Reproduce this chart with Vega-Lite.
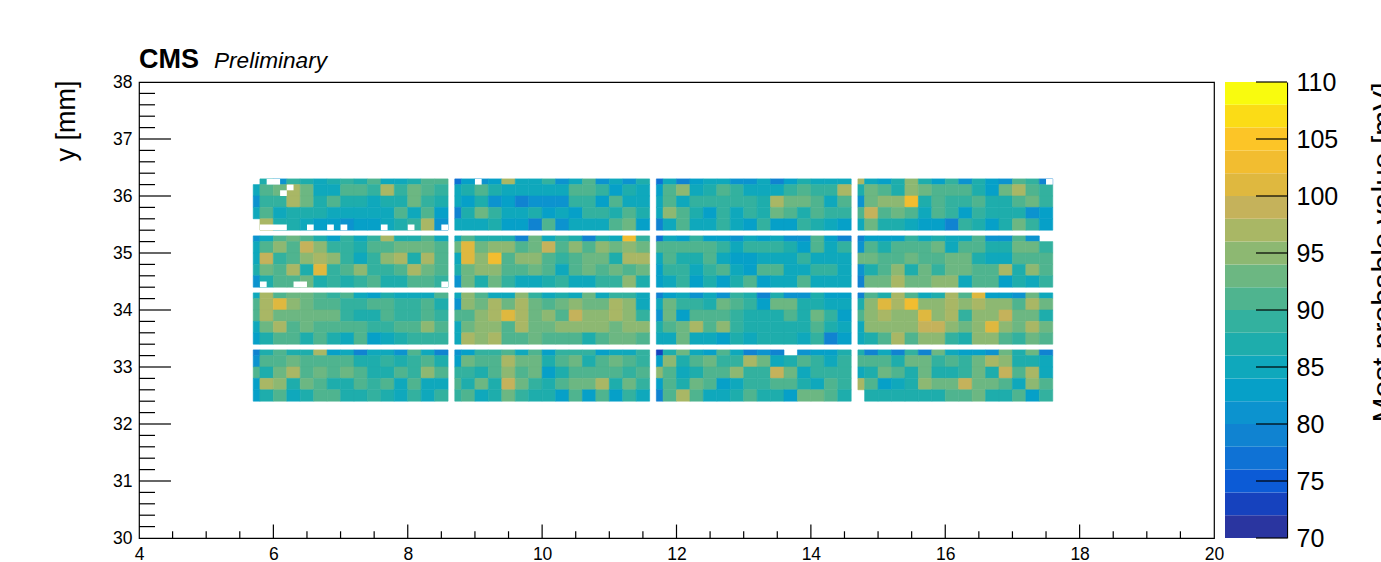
{"$schema":"https://vega.github.io/schema/vega-lite/v6.json","padding":{"left":51,"top":45,"right":0,"bottom":0},"background":"white","spacing":-8,"config":{"view":{"stroke":null},"font":"Liberation Sans"},
"datasets":{
"cols":[{"x":5.7,"x2":5.8},{"x":5.8,"x2":6},{"x":6,"x2":6.2},{"x":6.2,"x2":6.4},{"x":6.4,"x2":6.6},{"x":6.6,"x2":6.8},{"x":6.8,"x2":7},{"x":7,"x2":7.2},{"x":7.2,"x2":7.4},{"x":7.4,"x2":7.6},{"x":7.6,"x2":7.8},{"x":7.8,"x2":8},{"x":8,"x2":8.2},{"x":8.2,"x2":8.4},{"x":8.4,"x2":8.6},{"x":8.7,"x2":8.8},{"x":8.8,"x2":9},{"x":9,"x2":9.2},{"x":9.2,"x2":9.4},{"x":9.4,"x2":9.6},{"x":9.6,"x2":9.8},{"x":9.8,"x2":10},{"x":10,"x2":10.2},{"x":10.2,"x2":10.4},{"x":10.4,"x2":10.6},{"x":10.6,"x2":10.8},{"x":10.8,"x2":11},{"x":11,"x2":11.2},{"x":11.2,"x2":11.4},{"x":11.4,"x2":11.6},{"x":11.7,"x2":11.8},{"x":11.8,"x2":12},{"x":12,"x2":12.2},{"x":12.2,"x2":12.4},{"x":12.4,"x2":12.6},{"x":12.6,"x2":12.8},{"x":12.8,"x2":13},{"x":13,"x2":13.2},{"x":13.2,"x2":13.4},{"x":13.4,"x2":13.6},{"x":13.6,"x2":13.8},{"x":13.8,"x2":14},{"x":14,"x2":14.2},{"x":14.2,"x2":14.4},{"x":14.4,"x2":14.6},{"x":14.7,"x2":14.8},{"x":14.8,"x2":15},{"x":15,"x2":15.2},{"x":15.2,"x2":15.4},{"x":15.4,"x2":15.6},{"x":15.6,"x2":15.8},{"x":15.8,"x2":16},{"x":16,"x2":16.2},{"x":16.2,"x2":16.4},{"x":16.4,"x2":16.6},{"x":16.6,"x2":16.8},{"x":16.8,"x2":17},{"x":17,"x2":17.2},{"x":17.2,"x2":17.4},{"x":17.4,"x2":17.6}],
"rows":[{"y":36.3,"y2":36.2},{"y":36.2,"y2":36},{"y":36,"y2":35.8},{"y":35.8,"y2":35.6},{"y":35.6,"y2":35.4},{"y":35.3,"y2":35.2},{"y":35.2,"y2":35},{"y":35,"y2":34.8},{"y":34.8,"y2":34.6},{"y":34.6,"y2":34.4},{"y":34.3,"y2":34.2},{"y":34.2,"y2":34},{"y":34,"y2":33.8},{"y":33.8,"y2":33.6},{"y":33.6,"y2":33.4},{"y":33.3,"y2":33.2},{"y":33.2,"y2":33},{"y":33,"y2":32.8},{"y":32.8,"y2":32.6},{"y":32.6,"y2":32.4}],
"holes":[{"x":5.9,"x2":6.1,"y":36.3,"y2":36.2},{"x":6.1,"x2":6.2,"y":36.1,"y2":36},{"x":6.2,"x2":6.3,"y":36.2,"y2":36.1},{"x":5.8,"x2":6.2,"y":35.5,"y2":35.4},{"x":6.5,"x2":6.6,"y":35.5,"y2":35.4},{"x":6.8,"x2":6.9,"y":35.5,"y2":35.4},{"x":7,"x2":7.1,"y":35.5,"y2":35.4},{"x":7.6,"x2":7.7,"y":35.5,"y2":35.4},{"x":8,"x2":8.1,"y":35.5,"y2":35.4},{"x":8.5,"x2":8.6,"y":35.5,"y2":35.4},{"x":5.8,"x2":5.9,"y":34.5,"y2":34.4},{"x":6.3,"x2":6.5,"y":34.5,"y2":34.4},{"x":8.5,"x2":8.6,"y":34.5,"y2":34.4},{"x":9,"x2":9.1,"y":36.3,"y2":36.2},{"x":17.5,"x2":17.6,"y":36.3,"y2":36.2}],
"ticks":[{"x":6,"x2":6,"y":30,"y2":30.236},{"x":8,"x2":8,"y":30,"y2":30.236},{"x":10,"x2":10,"y":30,"y2":30.236},{"x":12,"x2":12,"y":30,"y2":30.236},{"x":14,"x2":14,"y":30,"y2":30.236},{"x":16,"x2":16,"y":30,"y2":30.236},{"x":18,"x2":18,"y":30,"y2":30.236},{"x":4.5,"x2":4.5,"y":30,"y2":30.118},{"x":5,"x2":5,"y":30,"y2":30.118},{"x":5.5,"x2":5.5,"y":30,"y2":30.118},{"x":6.5,"x2":6.5,"y":30,"y2":30.118},{"x":7,"x2":7,"y":30,"y2":30.118},{"x":7.5,"x2":7.5,"y":30,"y2":30.118},{"x":8.5,"x2":8.5,"y":30,"y2":30.118},{"x":9,"x2":9,"y":30,"y2":30.118},{"x":9.5,"x2":9.5,"y":30,"y2":30.118},{"x":10.5,"x2":10.5,"y":30,"y2":30.118},{"x":11,"x2":11,"y":30,"y2":30.118},{"x":11.5,"x2":11.5,"y":30,"y2":30.118},{"x":12.5,"x2":12.5,"y":30,"y2":30.118},{"x":13,"x2":13,"y":30,"y2":30.118},{"x":13.5,"x2":13.5,"y":30,"y2":30.118},{"x":14.5,"x2":14.5,"y":30,"y2":30.118},{"x":15,"x2":15,"y":30,"y2":30.118},{"x":15.5,"x2":15.5,"y":30,"y2":30.118},{"x":16.5,"x2":16.5,"y":30,"y2":30.118},{"x":17,"x2":17,"y":30,"y2":30.118},{"x":17.5,"x2":17.5,"y":30,"y2":30.118},{"x":18.5,"x2":18.5,"y":30,"y2":30.118},{"x":19,"x2":19,"y":30,"y2":30.118},{"x":19.5,"x2":19.5,"y":30,"y2":30.118},
{"x":4,"x2":4.476,"y":31,"y2":31},{"x":4,"x2":4.476,"y":32,"y2":32},{"x":4,"x2":4.476,"y":33,"y2":33},{"x":4,"x2":4.476,"y":34,"y2":34},{"x":4,"x2":4.476,"y":35,"y2":35},{"x":4,"x2":4.476,"y":36,"y2":36},{"x":4,"x2":4.476,"y":37,"y2":37},
{"x":4,"x2":4.238,"y":30.2,"y2":30.2},{"x":4,"x2":4.238,"y":30.4,"y2":30.4},{"x":4,"x2":4.238,"y":30.6,"y2":30.6},{"x":4,"x2":4.238,"y":30.8,"y2":30.8},{"x":4,"x2":4.238,"y":31.2,"y2":31.2},{"x":4,"x2":4.238,"y":31.4,"y2":31.4},{"x":4,"x2":4.238,"y":31.6,"y2":31.6},{"x":4,"x2":4.238,"y":31.8,"y2":31.8},{"x":4,"x2":4.238,"y":32.2,"y2":32.2},{"x":4,"x2":4.238,"y":32.4,"y2":32.4},{"x":4,"x2":4.238,"y":32.6,"y2":32.6},{"x":4,"x2":4.238,"y":32.8,"y2":32.8},{"x":4,"x2":4.238,"y":33.2,"y2":33.2},{"x":4,"x2":4.238,"y":33.4,"y2":33.4},{"x":4,"x2":4.238,"y":33.6,"y2":33.6},{"x":4,"x2":4.238,"y":33.8,"y2":33.8},{"x":4,"x2":4.238,"y":34.2,"y2":34.2},{"x":4,"x2":4.238,"y":34.4,"y2":34.4},{"x":4,"x2":4.238,"y":34.6,"y2":34.6},{"x":4,"x2":4.238,"y":34.8,"y2":34.8},{"x":4,"x2":4.238,"y":35.2,"y2":35.2},{"x":4,"x2":4.238,"y":35.4,"y2":35.4},{"x":4,"x2":4.238,"y":35.6,"y2":35.6},{"x":4,"x2":4.238,"y":35.8,"y2":35.8},{"x":4,"x2":4.238,"y":36.2,"y2":36.2},{"x":4,"x2":4.238,"y":36.4,"y2":36.4},{"x":4,"x2":4.238,"y":36.6,"y2":36.6},{"x":4,"x2":4.238,"y":36.8,"y2":36.8},{"x":4,"x2":4.238,"y":37.2,"y2":37.2},{"x":4,"x2":4.238,"y":37.4,"y2":37.4},{"x":4,"x2":4.238,"y":37.6,"y2":37.6},{"x":4,"x2":4.238,"y":37.8,"y2":37.8}],
"bar":[{"lo":70,"hi":72},{"lo":72,"hi":74},{"lo":74,"hi":76},{"lo":76,"hi":78},{"lo":78,"hi":80},{"lo":80,"hi":82},{"lo":82,"hi":84},{"lo":84,"hi":86},{"lo":86,"hi":88},{"lo":88,"hi":90},{"lo":90,"hi":92},{"lo":92,"hi":94},{"lo":94,"hi":96},{"lo":96,"hi":98},{"lo":98,"hi":100},{"lo":100,"hi":102},{"lo":102,"hi":104},{"lo":104,"hi":106},{"lo":106,"hi":108},{"lo":108,"hi":110}],
"barticks":[{"t":70},{"t":75},{"t":80},{"t":85},{"t":90},{"t":95},{"t":100},{"t":105},{"t":110}],
"cells":[
{"x":5.8,"y":36.3,"v":86},{"x":6,"y":36.3,"v":80},{"x":6.2,"y":36.3,"v":88},{"x":6.4,"y":36.3,"v":86},{"x":6.6,"y":36.3,"v":84},{"x":6.8,"y":36.3,"v":86},{"x":7,"y":36.3,"v":88},{"x":7.2,"y":36.3,"v":86},{"x":7.4,"y":36.3,"v":90},{"x":7.6,"y":36.3,"v":84},{"x":7.8,"y":36.3,"v":84},{"x":8,"y":36.3,"v":86},{"x":8.2,"y":36.3,"v":90},{"x":8.4,"y":36.3,"v":90},
{"x":5.7,"y":36.2,"v":84},{"x":5.8,"y":36.2,"v":90},{"x":6,"y":36.2,"v":92},{"x":6.2,"y":36.2,"v":96},{"x":6.4,"y":36.2,"v":92},{"x":6.6,"y":36.2,"v":84},{"x":6.8,"y":36.2,"v":84},{"x":7,"y":36.2,"v":90},{"x":7.2,"y":36.2,"v":90},{"x":7.4,"y":36.2,"v":88},{"x":7.6,"y":36.2,"v":96},{"x":7.8,"y":36.2,"v":88},{"x":8,"y":36.2,"v":92},{"x":8.2,"y":36.2,"v":90},{"x":8.4,"y":36.2,"v":88},
{"x":5.7,"y":36,"v":80},{"x":5.8,"y":36,"v":88},{"x":6,"y":36,"v":88},{"x":6.2,"y":36,"v":96},{"x":6.4,"y":36,"v":92},{"x":6.6,"y":36,"v":86},{"x":6.8,"y":36,"v":90},{"x":7,"y":36,"v":86},{"x":7.2,"y":36,"v":86},{"x":7.4,"y":36,"v":84},{"x":7.6,"y":36,"v":86},{"x":7.8,"y":36,"v":86},{"x":8,"y":36,"v":92},{"x":8.2,"y":36,"v":88},{"x":8.4,"y":36,"v":86},
{"x":5.7,"y":35.8,"v":84},{"x":5.8,"y":35.8,"v":90},{"x":6,"y":35.8,"v":84},{"x":6.2,"y":35.8,"v":86},{"x":6.4,"y":35.8,"v":86},{"x":6.6,"y":35.8,"v":86},{"x":6.8,"y":35.8,"v":85},{"x":7,"y":35.8,"v":84},{"x":7.2,"y":35.8,"v":84},{"x":7.4,"y":35.8,"v":84},{"x":7.6,"y":35.8,"v":84},{"x":7.8,"y":35.8,"v":90},{"x":8,"y":35.8,"v":84},{"x":8.2,"y":35.8,"v":90},{"x":8.4,"y":35.8,"v":82},
{"x":5.8,"y":35.6,"v":96},{"x":6,"y":35.6,"v":86},{"x":6.2,"y":35.6,"v":86},{"x":6.4,"y":35.6,"v":84},{"x":6.6,"y":35.6,"v":82},{"x":6.8,"y":35.6,"v":82},{"x":7,"y":35.6,"v":80},{"x":7.2,"y":35.6,"v":82},{"x":7.4,"y":35.6,"v":82},{"x":7.6,"y":35.6,"v":84},{"x":7.8,"y":35.6,"v":86},{"x":8,"y":35.6,"v":88},{"x":8.2,"y":35.6,"v":96},{"x":8.4,"y":35.6,"v":80},
{"x":5.7,"y":35.3,"v":80},{"x":5.8,"y":35.3,"v":84},{"x":6,"y":35.3,"v":90},{"x":6.2,"y":35.3,"v":92},{"x":6.4,"y":35.3,"v":90},{"x":6.6,"y":35.3,"v":86},{"x":6.8,"y":35.3,"v":82},{"x":7,"y":35.3,"v":88},{"x":7.2,"y":35.3,"v":84},{"x":7.4,"y":35.3,"v":88},{"x":7.6,"y":35.3,"v":96},{"x":7.8,"y":35.3,"v":86},{"x":8,"y":35.3,"v":86},{"x":8.2,"y":35.3,"v":90},{"x":8.4,"y":35.3,"v":84},
{"x":5.7,"y":35.2,"v":84},{"x":5.8,"y":35.2,"v":90},{"x":6,"y":35.2,"v":94},{"x":6.2,"y":35.2,"v":90},{"x":6.4,"y":35.2,"v":98},{"x":6.6,"y":35.2,"v":94},{"x":6.8,"y":35.2,"v":88},{"x":7,"y":35.2,"v":88},{"x":7.2,"y":35.2,"v":86},{"x":7.4,"y":35.2,"v":90},{"x":7.6,"y":35.2,"v":90},{"x":7.8,"y":35.2,"v":92},{"x":8,"y":35.2,"v":92},{"x":8.2,"y":35.2,"v":92},{"x":8.4,"y":35.2,"v":90},
{"x":5.7,"y":35,"v":84},{"x":5.8,"y":35,"v":98},{"x":6,"y":35,"v":88},{"x":6.2,"y":35,"v":90},{"x":6.4,"y":35,"v":94},{"x":6.6,"y":35,"v":97},{"x":6.8,"y":35,"v":94},{"x":7,"y":35,"v":88},{"x":7.2,"y":35,"v":84},{"x":7.4,"y":35,"v":88},{"x":7.6,"y":35,"v":94},{"x":7.8,"y":35,"v":96},{"x":8,"y":35,"v":86},{"x":8.2,"y":35,"v":96},{"x":8.4,"y":35,"v":90},
{"x":5.7,"y":34.8,"v":86},{"x":5.8,"y":34.8,"v":92},{"x":6,"y":34.8,"v":90},{"x":6.2,"y":34.8,"v":96},{"x":6.4,"y":34.8,"v":86},{"x":6.6,"y":34.8,"v":100},{"x":6.8,"y":34.8,"v":88},{"x":7,"y":34.8,"v":91},{"x":7.2,"y":34.8,"v":94},{"x":7.4,"y":34.8,"v":88},{"x":7.6,"y":34.8,"v":88},{"x":7.8,"y":34.8,"v":90},{"x":8,"y":34.8,"v":96},{"x":8.2,"y":34.8,"v":92},{"x":8.4,"y":34.8,"v":90},
{"x":5.7,"y":34.6,"v":80},{"x":5.8,"y":34.6,"v":86},{"x":6,"y":34.6,"v":90},{"x":6.2,"y":34.6,"v":90},{"x":6.4,"y":34.6,"v":92},{"x":6.6,"y":34.6,"v":86},{"x":6.8,"y":34.6,"v":88},{"x":7,"y":34.6,"v":86},{"x":7.2,"y":34.6,"v":88},{"x":7.4,"y":34.6,"v":90},{"x":7.6,"y":34.6,"v":86},{"x":7.8,"y":34.6,"v":86},{"x":8,"y":34.6,"v":90},{"x":8.2,"y":34.6,"v":90},{"x":8.4,"y":34.6,"v":88},
{"x":5.7,"y":34.3,"v":84},{"x":5.8,"y":34.3,"v":96},{"x":6,"y":34.3,"v":90},{"x":6.2,"y":34.3,"v":92},{"x":6.4,"y":34.3,"v":92},{"x":6.6,"y":34.3,"v":90},{"x":6.8,"y":34.3,"v":88},{"x":7,"y":34.3,"v":90},{"x":7.2,"y":34.3,"v":84},{"x":7.4,"y":34.3,"v":82},{"x":7.6,"y":34.3,"v":86},{"x":7.8,"y":34.3,"v":84},{"x":8,"y":34.3,"v":84},{"x":8.2,"y":34.3,"v":84},{"x":8.4,"y":34.3,"v":90},
{"x":5.7,"y":34.2,"v":90},{"x":5.8,"y":34.2,"v":96},{"x":6,"y":34.2,"v":100},{"x":6.2,"y":34.2,"v":95},{"x":6.4,"y":34.2,"v":92},{"x":6.6,"y":34.2,"v":90},{"x":6.8,"y":34.2,"v":90},{"x":7,"y":34.2,"v":88},{"x":7.2,"y":34.2,"v":88},{"x":7.4,"y":34.2,"v":90},{"x":7.6,"y":34.2,"v":90},{"x":7.8,"y":34.2,"v":88},{"x":8,"y":34.2,"v":88},{"x":8.2,"y":34.2,"v":91},{"x":8.4,"y":34.2,"v":86},
{"x":5.7,"y":34,"v":90},{"x":5.8,"y":34,"v":96},{"x":6,"y":34,"v":92},{"x":6.2,"y":34,"v":92},{"x":6.4,"y":34,"v":92},{"x":6.6,"y":34,"v":92},{"x":6.8,"y":34,"v":93},{"x":7,"y":34,"v":88},{"x":7.2,"y":34,"v":86},{"x":7.4,"y":34,"v":86},{"x":7.6,"y":34,"v":91},{"x":7.8,"y":34,"v":88},{"x":8,"y":34,"v":88},{"x":8.2,"y":34,"v":91},{"x":8.4,"y":34,"v":88},
{"x":5.7,"y":33.8,"v":85},{"x":5.8,"y":33.8,"v":93},{"x":6,"y":33.8,"v":97},{"x":6.2,"y":33.8,"v":90},{"x":6.4,"y":33.8,"v":93},{"x":6.6,"y":33.8,"v":90},{"x":6.8,"y":33.8,"v":90},{"x":7,"y":33.8,"v":90},{"x":7.2,"y":33.8,"v":90},{"x":7.4,"y":33.8,"v":88},{"x":7.6,"y":33.8,"v":88},{"x":7.8,"y":33.8,"v":90},{"x":8,"y":33.8,"v":90},{"x":8.2,"y":33.8,"v":94},{"x":8.4,"y":33.8,"v":91},
{"x":5.7,"y":33.6,"v":83},{"x":5.8,"y":33.6,"v":87},{"x":6,"y":33.6,"v":90},{"x":6.2,"y":33.6,"v":90},{"x":6.4,"y":33.6,"v":87},{"x":6.6,"y":33.6,"v":90},{"x":6.8,"y":33.6,"v":86},{"x":7,"y":33.6,"v":84},{"x":7.2,"y":33.6,"v":90},{"x":7.4,"y":33.6,"v":82},{"x":7.6,"y":33.6,"v":84},{"x":7.8,"y":33.6,"v":86},{"x":8,"y":33.6,"v":88},{"x":8.2,"y":33.6,"v":88},{"x":8.4,"y":33.6,"v":88},
{"x":5.7,"y":33.3,"v":78},{"x":5.8,"y":33.3,"v":86},{"x":6,"y":33.3,"v":90},{"x":6.2,"y":33.3,"v":86},{"x":6.4,"y":33.3,"v":87},{"x":6.6,"y":33.3,"v":96},{"x":6.8,"y":33.3,"v":82},{"x":7,"y":33.3,"v":84},{"x":7.2,"y":33.3,"v":78},{"x":7.4,"y":33.3,"v":84},{"x":7.6,"y":33.3,"v":84},{"x":7.8,"y":33.3,"v":80},{"x":8,"y":33.3,"v":90},{"x":8.2,"y":33.3,"v":84},{"x":8.4,"y":33.3,"v":79},
{"x":5.7,"y":33.2,"v":80},{"x":5.8,"y":33.2,"v":90},{"x":6,"y":33.2,"v":90},{"x":6.2,"y":33.2,"v":92},{"x":6.4,"y":33.2,"v":90},{"x":6.6,"y":33.2,"v":90},{"x":6.8,"y":33.2,"v":90},{"x":7,"y":33.2,"v":90},{"x":7.2,"y":33.2,"v":86},{"x":7.4,"y":33.2,"v":86},{"x":7.6,"y":33.2,"v":88},{"x":7.8,"y":33.2,"v":86},{"x":8,"y":33.2,"v":88},{"x":8.2,"y":33.2,"v":90},{"x":8.4,"y":33.2,"v":86},
{"x":5.7,"y":33,"v":90},{"x":5.8,"y":33,"v":86},{"x":6,"y":33,"v":92},{"x":6.2,"y":33,"v":96},{"x":6.4,"y":33,"v":90},{"x":6.6,"y":33,"v":93},{"x":6.8,"y":33,"v":90},{"x":7,"y":33,"v":93},{"x":7.2,"y":33,"v":91},{"x":7.4,"y":33,"v":86},{"x":7.6,"y":33,"v":86},{"x":7.8,"y":33,"v":90},{"x":8,"y":33,"v":88},{"x":8.2,"y":33,"v":94},{"x":8.4,"y":33,"v":90},
{"x":5.7,"y":32.8,"v":82},{"x":5.8,"y":32.8,"v":97},{"x":6,"y":32.8,"v":94},{"x":6.2,"y":32.8,"v":86},{"x":6.4,"y":32.8,"v":92},{"x":6.6,"y":32.8,"v":90},{"x":6.8,"y":32.8,"v":87},{"x":7,"y":32.8,"v":87},{"x":7.2,"y":32.8,"v":90},{"x":7.4,"y":32.8,"v":88},{"x":7.6,"y":32.8,"v":91},{"x":7.8,"y":32.8,"v":85},{"x":8,"y":32.8,"v":91},{"x":8.2,"y":32.8,"v":84},{"x":8.4,"y":32.8,"v":84},
{"x":5.7,"y":32.6,"v":82},{"x":5.8,"y":32.6,"v":87},{"x":6,"y":32.6,"v":90},{"x":6.2,"y":32.6,"v":84},{"x":6.4,"y":32.6,"v":87},{"x":6.6,"y":32.6,"v":90},{"x":6.8,"y":32.6,"v":90},{"x":7,"y":32.6,"v":87},{"x":7.2,"y":32.6,"v":86},{"x":7.4,"y":32.6,"v":88},{"x":7.6,"y":32.6,"v":86},{"x":7.8,"y":32.6,"v":84},{"x":8,"y":32.6,"v":88},{"x":8.2,"y":32.6,"v":85},{"x":8.4,"y":32.6,"v":88},
{"x":8.7,"y":36.3,"v":76},{"x":8.8,"y":36.3,"v":82},{"x":9,"y":36.3,"v":80},{"x":9.2,"y":36.3,"v":82},{"x":9.4,"y":36.3,"v":96},{"x":9.6,"y":36.3,"v":84},{"x":9.8,"y":36.3,"v":84},{"x":10,"y":36.3,"v":88},{"x":10.2,"y":36.3,"v":81},{"x":10.4,"y":36.3,"v":84},{"x":10.6,"y":36.3,"v":90},{"x":10.8,"y":36.3,"v":80},{"x":11,"y":36.3,"v":84},{"x":11.2,"y":36.3,"v":80},{"x":11.4,"y":36.3,"v":87},
{"x":8.7,"y":36.2,"v":85},{"x":8.8,"y":36.2,"v":87},{"x":9,"y":36.2,"v":91},{"x":9.2,"y":36.2,"v":87},{"x":9.4,"y":36.2,"v":85},{"x":9.6,"y":36.2,"v":85},{"x":9.8,"y":36.2,"v":85},{"x":10,"y":36.2,"v":85},{"x":10.2,"y":36.2,"v":85},{"x":10.4,"y":36.2,"v":90},{"x":10.6,"y":36.2,"v":90},{"x":10.8,"y":36.2,"v":88},{"x":11,"y":36.2,"v":83},{"x":11.2,"y":36.2,"v":87},{"x":11.4,"y":36.2,"v":84},
{"x":8.7,"y":36,"v":85},{"x":8.8,"y":36,"v":83},{"x":9,"y":36,"v":87},{"x":9.2,"y":36,"v":81},{"x":9.4,"y":36,"v":82},{"x":9.6,"y":36,"v":79},{"x":9.8,"y":36,"v":80},{"x":10,"y":36,"v":80},{"x":10.2,"y":36,"v":81},{"x":10.4,"y":36,"v":88},{"x":10.6,"y":36,"v":88},{"x":10.8,"y":36,"v":83},{"x":11,"y":36,"v":91},{"x":11.2,"y":36,"v":85},{"x":11.4,"y":36,"v":84},
{"x":8.7,"y":35.8,"v":78},{"x":8.8,"y":35.8,"v":87},{"x":9,"y":35.8,"v":92},{"x":9.2,"y":35.8,"v":89},{"x":9.4,"y":35.8,"v":84},{"x":9.6,"y":35.8,"v":85},{"x":9.8,"y":35.8,"v":86},{"x":10,"y":35.8,"v":82},{"x":10.2,"y":35.8,"v":85},{"x":10.4,"y":35.8,"v":82},{"x":10.6,"y":35.8,"v":89},{"x":10.8,"y":35.8,"v":88},{"x":11,"y":35.8,"v":87},{"x":11.2,"y":35.8,"v":90},{"x":11.4,"y":35.8,"v":87},
{"x":8.7,"y":35.6,"v":84},{"x":8.8,"y":35.6,"v":84},{"x":9,"y":35.6,"v":84},{"x":9.2,"y":35.6,"v":87},{"x":9.4,"y":35.6,"v":82},{"x":9.6,"y":35.6,"v":83},{"x":9.8,"y":35.6,"v":79},{"x":10,"y":35.6,"v":90},{"x":10.2,"y":35.6,"v":81},{"x":10.4,"y":35.6,"v":84},{"x":10.6,"y":35.6,"v":84},{"x":10.8,"y":35.6,"v":84},{"x":11,"y":35.6,"v":90},{"x":11.2,"y":35.6,"v":93},{"x":11.4,"y":35.6,"v":82},
{"x":8.7,"y":35.3,"v":85},{"x":8.8,"y":35.3,"v":90},{"x":9,"y":35.3,"v":87},{"x":9.2,"y":35.3,"v":87},{"x":9.4,"y":35.3,"v":86},{"x":9.6,"y":35.3,"v":79},{"x":9.8,"y":35.3,"v":92},{"x":10,"y":35.3,"v":85},{"x":10.2,"y":35.3,"v":88},{"x":10.4,"y":35.3,"v":86},{"x":10.6,"y":35.3,"v":79},{"x":10.8,"y":35.3,"v":87},{"x":11,"y":35.3,"v":84},{"x":11.2,"y":35.3,"v":102},{"x":11.4,"y":35.3,"v":88},
{"x":8.7,"y":35.2,"v":93},{"x":8.8,"y":35.2,"v":101},{"x":9,"y":35.2,"v":92},{"x":9.2,"y":35.2,"v":95},{"x":9.4,"y":35.2,"v":95},{"x":9.6,"y":35.2,"v":90},{"x":9.8,"y":35.2,"v":92},{"x":10,"y":35.2,"v":98},{"x":10.2,"y":35.2,"v":90},{"x":10.4,"y":35.2,"v":95},{"x":10.6,"y":35.2,"v":90},{"x":10.8,"y":35.2,"v":95},{"x":11,"y":35.2,"v":92},{"x":11.2,"y":35.2,"v":95},{"x":11.4,"y":35.2,"v":93},
{"x":8.7,"y":35,"v":85},{"x":8.8,"y":35,"v":101},{"x":9,"y":35,"v":94},{"x":9.2,"y":35,"v":103},{"x":9.4,"y":35,"v":90},{"x":9.6,"y":35,"v":94},{"x":9.8,"y":35,"v":94},{"x":10,"y":35,"v":90},{"x":10.2,"y":35,"v":88},{"x":10.4,"y":35,"v":91},{"x":10.6,"y":35,"v":93},{"x":10.8,"y":35,"v":93},{"x":11,"y":35,"v":86},{"x":11.2,"y":35,"v":97},{"x":11.4,"y":35,"v":97},
{"x":8.7,"y":34.8,"v":86},{"x":8.8,"y":34.8,"v":92},{"x":9,"y":34.8,"v":95},{"x":9.2,"y":34.8,"v":95},{"x":9.4,"y":34.8,"v":90},{"x":9.6,"y":34.8,"v":90},{"x":9.8,"y":34.8,"v":93},{"x":10,"y":34.8,"v":90},{"x":10.2,"y":34.8,"v":85},{"x":10.4,"y":34.8,"v":90},{"x":10.6,"y":34.8,"v":93},{"x":10.8,"y":34.8,"v":90},{"x":11,"y":34.8,"v":92},{"x":11.2,"y":34.8,"v":90},{"x":11.4,"y":34.8,"v":93},
{"x":8.7,"y":34.6,"v":80},{"x":8.8,"y":34.6,"v":92},{"x":9,"y":34.6,"v":87},{"x":9.2,"y":34.6,"v":92},{"x":9.4,"y":34.6,"v":88},{"x":9.6,"y":34.6,"v":84},{"x":9.8,"y":34.6,"v":84},{"x":10,"y":34.6,"v":87},{"x":10.2,"y":34.6,"v":89},{"x":10.4,"y":34.6,"v":84},{"x":10.6,"y":34.6,"v":84},{"x":10.8,"y":34.6,"v":88},{"x":11,"y":34.6,"v":88},{"x":11.2,"y":34.6,"v":95},{"x":11.4,"y":34.6,"v":86},
{"x":8.7,"y":34.3,"v":84},{"x":8.8,"y":34.3,"v":94},{"x":9,"y":34.3,"v":90},{"x":9.2,"y":34.3,"v":85},{"x":9.4,"y":34.3,"v":85},{"x":9.6,"y":34.3,"v":95},{"x":9.8,"y":34.3,"v":88},{"x":10,"y":34.3,"v":84},{"x":10.2,"y":34.3,"v":87},{"x":10.4,"y":34.3,"v":85},{"x":10.6,"y":34.3,"v":92},{"x":10.8,"y":34.3,"v":84},{"x":11,"y":34.3,"v":88},{"x":11.2,"y":34.3,"v":88},{"x":11.4,"y":34.3,"v":84},
{"x":8.7,"y":34.2,"v":81},{"x":8.8,"y":34.2,"v":95},{"x":9,"y":34.2,"v":92},{"x":9.2,"y":34.2,"v":97},{"x":9.4,"y":34.2,"v":92},{"x":9.6,"y":34.2,"v":97},{"x":9.8,"y":34.2,"v":92},{"x":10,"y":34.2,"v":90},{"x":10.2,"y":34.2,"v":92},{"x":10.4,"y":34.2,"v":95},{"x":10.6,"y":34.2,"v":92},{"x":10.8,"y":34.2,"v":92},{"x":11,"y":34.2,"v":97},{"x":11.2,"y":34.2,"v":94},{"x":11.4,"y":34.2,"v":84},
{"x":8.7,"y":34,"v":90},{"x":8.8,"y":34,"v":90},{"x":9,"y":34,"v":94},{"x":9.2,"y":34,"v":97},{"x":9.4,"y":34,"v":101},{"x":9.6,"y":34,"v":97},{"x":9.8,"y":34,"v":92},{"x":10,"y":34,"v":95},{"x":10.2,"y":34,"v":91},{"x":10.4,"y":34,"v":98},{"x":10.6,"y":34,"v":94},{"x":10.8,"y":34,"v":94},{"x":11,"y":34,"v":97},{"x":11.2,"y":34,"v":94},{"x":11.4,"y":34,"v":88},
{"x":8.7,"y":33.8,"v":84},{"x":8.8,"y":33.8,"v":92},{"x":9,"y":33.8,"v":94},{"x":9.2,"y":33.8,"v":94},{"x":9.4,"y":33.8,"v":91},{"x":9.6,"y":33.8,"v":97},{"x":9.8,"y":33.8,"v":92},{"x":10,"y":33.8,"v":92},{"x":10.2,"y":33.8,"v":95},{"x":10.4,"y":33.8,"v":95},{"x":10.6,"y":33.8,"v":95},{"x":10.8,"y":33.8,"v":95},{"x":11,"y":33.8,"v":92},{"x":11.2,"y":33.8,"v":95},{"x":11.4,"y":33.8,"v":95},
{"x":8.7,"y":33.6,"v":84},{"x":8.8,"y":33.6,"v":97},{"x":9,"y":33.6,"v":94},{"x":9.2,"y":33.6,"v":97},{"x":9.4,"y":33.6,"v":90},{"x":9.6,"y":33.6,"v":90},{"x":9.8,"y":33.6,"v":93},{"x":10,"y":33.6,"v":90},{"x":10.2,"y":33.6,"v":90},{"x":10.4,"y":33.6,"v":90},{"x":10.6,"y":33.6,"v":87},{"x":10.8,"y":33.6,"v":90},{"x":11,"y":33.6,"v":92},{"x":11.2,"y":33.6,"v":92},{"x":11.4,"y":33.6,"v":90},
{"x":8.7,"y":33.3,"v":81},{"x":8.8,"y":33.3,"v":83},{"x":9,"y":33.3,"v":88},{"x":9.2,"y":33.3,"v":88},{"x":9.4,"y":33.3,"v":91},{"x":9.6,"y":33.3,"v":85},{"x":9.8,"y":33.3,"v":90},{"x":10,"y":33.3,"v":83},{"x":10.2,"y":33.3,"v":88},{"x":10.4,"y":33.3,"v":88},{"x":10.6,"y":33.3,"v":88},{"x":10.8,"y":33.3,"v":82},{"x":11,"y":33.3,"v":84},{"x":11.2,"y":33.3,"v":84},{"x":11.4,"y":33.3,"v":88},
{"x":8.7,"y":33.2,"v":82},{"x":8.8,"y":33.2,"v":92},{"x":9,"y":33.2,"v":90},{"x":9.2,"y":33.2,"v":90},{"x":9.4,"y":33.2,"v":96},{"x":9.6,"y":33.2,"v":92},{"x":9.8,"y":33.2,"v":92},{"x":10,"y":33.2,"v":87},{"x":10.2,"y":33.2,"v":90},{"x":10.4,"y":33.2,"v":92},{"x":10.6,"y":33.2,"v":87},{"x":10.8,"y":33.2,"v":90},{"x":11,"y":33.2,"v":93},{"x":11.2,"y":33.2,"v":90},{"x":11.4,"y":33.2,"v":88},
{"x":8.7,"y":33,"v":88},{"x":8.8,"y":33,"v":88},{"x":9,"y":33,"v":87},{"x":9.2,"y":33,"v":90},{"x":9.4,"y":33,"v":95},{"x":9.6,"y":33,"v":90},{"x":9.8,"y":33,"v":93},{"x":10,"y":33,"v":82},{"x":10.2,"y":33,"v":87},{"x":10.4,"y":33,"v":90},{"x":10.6,"y":33,"v":90},{"x":10.8,"y":33,"v":90},{"x":11,"y":33,"v":90},{"x":11.2,"y":33,"v":88},{"x":11.4,"y":33,"v":90},
{"x":8.7,"y":32.8,"v":90},{"x":8.8,"y":32.8,"v":87},{"x":9,"y":32.8,"v":92},{"x":9.2,"y":32.8,"v":87},{"x":9.4,"y":32.8,"v":99},{"x":9.6,"y":32.8,"v":92},{"x":9.8,"y":32.8,"v":89},{"x":10,"y":32.8,"v":87},{"x":10.2,"y":32.8,"v":90},{"x":10.4,"y":32.8,"v":92},{"x":10.6,"y":32.8,"v":92},{"x":10.8,"y":32.8,"v":96},{"x":11,"y":32.8,"v":87},{"x":11.2,"y":32.8,"v":93},{"x":11.4,"y":32.8,"v":88},
{"x":8.7,"y":32.6,"v":88},{"x":8.8,"y":32.6,"v":91},{"x":9,"y":32.6,"v":85},{"x":9.2,"y":32.6,"v":87},{"x":9.4,"y":32.6,"v":92},{"x":9.6,"y":32.6,"v":88},{"x":9.8,"y":32.6,"v":86},{"x":10,"y":32.6,"v":87},{"x":10.2,"y":32.6,"v":83},{"x":10.4,"y":32.6,"v":91},{"x":10.6,"y":32.6,"v":83},{"x":10.8,"y":32.6,"v":91},{"x":11,"y":32.6,"v":82},{"x":11.2,"y":32.6,"v":88},{"x":11.4,"y":32.6,"v":84},
{"x":11.7,"y":36.3,"v":76},{"x":11.8,"y":36.3,"v":84},{"x":12,"y":36.3,"v":79},{"x":12.2,"y":36.3,"v":83},{"x":12.4,"y":36.3,"v":85},{"x":12.6,"y":36.3,"v":85},{"x":12.8,"y":36.3,"v":80},{"x":13,"y":36.3,"v":80},{"x":13.2,"y":36.3,"v":84},{"x":13.4,"y":36.3,"v":79},{"x":13.6,"y":36.3,"v":82},{"x":13.8,"y":36.3,"v":86},{"x":14,"y":36.3,"v":84},{"x":14.2,"y":36.3,"v":84},{"x":14.4,"y":36.3,"v":84},
{"x":11.7,"y":36.2,"v":82},{"x":11.8,"y":36.2,"v":90},{"x":12,"y":36.2,"v":95},{"x":12.2,"y":36.2,"v":84},{"x":12.4,"y":36.2,"v":87},{"x":12.6,"y":36.2,"v":91},{"x":12.8,"y":36.2,"v":88},{"x":13,"y":36.2,"v":84},{"x":13.2,"y":36.2,"v":84},{"x":13.4,"y":36.2,"v":84},{"x":13.6,"y":36.2,"v":88},{"x":13.8,"y":36.2,"v":91},{"x":14,"y":36.2,"v":88},{"x":14.2,"y":36.2,"v":88},{"x":14.4,"y":36.2,"v":96},
{"x":11.7,"y":36,"v":85},{"x":11.8,"y":36,"v":90},{"x":12,"y":36,"v":84},{"x":12.2,"y":36,"v":88},{"x":12.4,"y":36,"v":88},{"x":12.6,"y":36,"v":88},{"x":12.8,"y":36,"v":88},{"x":13,"y":36,"v":88},{"x":13.2,"y":36,"v":86},{"x":13.4,"y":36,"v":97},{"x":13.6,"y":36,"v":93},{"x":13.8,"y":36,"v":93},{"x":14,"y":36,"v":91},{"x":14.2,"y":36,"v":85},{"x":14.4,"y":36,"v":90},
{"x":11.7,"y":35.8,"v":85},{"x":11.8,"y":35.8,"v":94},{"x":12,"y":35.8,"v":91},{"x":12.2,"y":35.8,"v":87},{"x":12.4,"y":35.8,"v":83},{"x":12.6,"y":35.8,"v":88},{"x":12.8,"y":35.8,"v":85},{"x":13,"y":35.8,"v":88},{"x":13.2,"y":35.8,"v":86},{"x":13.4,"y":35.8,"v":93},{"x":13.6,"y":35.8,"v":90},{"x":13.8,"y":35.8,"v":87},{"x":14,"y":35.8,"v":91},{"x":14.2,"y":35.8,"v":88},{"x":14.4,"y":35.8,"v":88},
{"x":11.7,"y":35.6,"v":78},{"x":11.8,"y":35.6,"v":85},{"x":12,"y":35.6,"v":90},{"x":12.2,"y":35.6,"v":85},{"x":12.4,"y":35.6,"v":85},{"x":12.6,"y":35.6,"v":88},{"x":12.8,"y":35.6,"v":85},{"x":13,"y":35.6,"v":83},{"x":13.2,"y":35.6,"v":89},{"x":13.4,"y":35.6,"v":82},{"x":13.6,"y":35.6,"v":82},{"x":13.8,"y":35.6,"v":88},{"x":14,"y":35.6,"v":86},{"x":14.2,"y":35.6,"v":85},{"x":14.4,"y":35.6,"v":82},
{"x":11.7,"y":35.3,"v":76},{"x":11.8,"y":35.3,"v":84},{"x":12,"y":35.3,"v":82},{"x":12.2,"y":35.3,"v":88},{"x":12.4,"y":35.3,"v":83},{"x":12.6,"y":35.3,"v":83},{"x":12.8,"y":35.3,"v":81},{"x":13,"y":35.3,"v":85},{"x":13.2,"y":35.3,"v":82},{"x":13.4,"y":35.3,"v":85},{"x":13.6,"y":35.3,"v":81},{"x":13.8,"y":35.3,"v":81},{"x":14,"y":35.3,"v":90},{"x":14.2,"y":35.3,"v":82},{"x":14.4,"y":35.3,"v":79},
{"x":11.7,"y":35.2,"v":90},{"x":11.8,"y":35.2,"v":90},{"x":12,"y":35.2,"v":90},{"x":12.2,"y":35.2,"v":90},{"x":12.4,"y":35.2,"v":90},{"x":12.6,"y":35.2,"v":88},{"x":12.8,"y":35.2,"v":85},{"x":13,"y":35.2,"v":88},{"x":13.2,"y":35.2,"v":88},{"x":13.4,"y":35.2,"v":88},{"x":13.6,"y":35.2,"v":86},{"x":13.8,"y":35.2,"v":83},{"x":14,"y":35.2,"v":91},{"x":14.2,"y":35.2,"v":85},{"x":14.4,"y":35.2,"v":88},
{"x":11.7,"y":35,"v":85},{"x":11.8,"y":35,"v":90},{"x":12,"y":35,"v":87},{"x":12.2,"y":35,"v":87},{"x":12.4,"y":35,"v":91},{"x":12.6,"y":35,"v":85},{"x":12.8,"y":35,"v":83},{"x":13,"y":35,"v":83},{"x":13.2,"y":35,"v":85},{"x":13.4,"y":35,"v":85},{"x":13.6,"y":35,"v":85},{"x":13.8,"y":35,"v":88},{"x":14,"y":35,"v":85},{"x":14.2,"y":35,"v":84},{"x":14.4,"y":35,"v":84},
{"x":11.7,"y":34.8,"v":82},{"x":11.8,"y":34.8,"v":88},{"x":12,"y":34.8,"v":88},{"x":12.2,"y":34.8,"v":85},{"x":12.4,"y":34.8,"v":88},{"x":12.6,"y":34.8,"v":91},{"x":12.8,"y":34.8,"v":85},{"x":13,"y":34.8,"v":83},{"x":13.2,"y":34.8,"v":91},{"x":13.4,"y":34.8,"v":91},{"x":13.6,"y":34.8,"v":85},{"x":13.8,"y":34.8,"v":85},{"x":14,"y":34.8,"v":88},{"x":14.2,"y":34.8,"v":88},{"x":14.4,"y":34.8,"v":84},
{"x":11.7,"y":34.6,"v":82},{"x":11.8,"y":34.6,"v":85},{"x":12,"y":34.6,"v":88},{"x":12.2,"y":34.6,"v":83},{"x":12.4,"y":34.6,"v":86},{"x":12.6,"y":34.6,"v":83},{"x":12.8,"y":34.6,"v":86},{"x":13,"y":34.6,"v":91},{"x":13.2,"y":34.6,"v":82},{"x":13.4,"y":34.6,"v":84},{"x":13.6,"y":34.6,"v":84},{"x":13.8,"y":34.6,"v":91},{"x":14,"y":34.6,"v":85},{"x":14.2,"y":34.6,"v":85},{"x":14.4,"y":34.6,"v":84},
{"x":11.7,"y":34.3,"v":78},{"x":11.8,"y":34.3,"v":82},{"x":12,"y":34.3,"v":84},{"x":12.2,"y":34.3,"v":80},{"x":12.4,"y":34.3,"v":84},{"x":12.6,"y":34.3,"v":80},{"x":12.8,"y":34.3,"v":88},{"x":13,"y":34.3,"v":86},{"x":13.2,"y":34.3,"v":79},{"x":13.4,"y":34.3,"v":86},{"x":13.6,"y":34.3,"v":81},{"x":13.8,"y":34.3,"v":81},{"x":14,"y":34.3,"v":87},{"x":14.2,"y":34.3,"v":82},{"x":14.4,"y":34.3,"v":82},
{"x":11.7,"y":34.2,"v":85},{"x":11.8,"y":34.2,"v":92},{"x":12,"y":34.2,"v":88},{"x":12.2,"y":34.2,"v":88},{"x":12.4,"y":34.2,"v":86},{"x":12.6,"y":34.2,"v":93},{"x":12.8,"y":34.2,"v":90},{"x":13,"y":34.2,"v":88},{"x":13.2,"y":34.2,"v":83},{"x":13.4,"y":34.2,"v":92},{"x":13.6,"y":34.2,"v":92},{"x":13.8,"y":34.2,"v":87},{"x":14,"y":34.2,"v":87},{"x":14.2,"y":34.2,"v":85},{"x":14.4,"y":34.2,"v":85},
{"x":11.7,"y":34,"v":80},{"x":11.8,"y":34,"v":92},{"x":12,"y":34,"v":83},{"x":12.2,"y":34,"v":90},{"x":12.4,"y":34,"v":90},{"x":12.6,"y":34,"v":90},{"x":12.8,"y":34,"v":88},{"x":13,"y":34,"v":86},{"x":13.2,"y":34,"v":87},{"x":13.4,"y":34,"v":87},{"x":13.6,"y":34,"v":90},{"x":13.8,"y":34,"v":87},{"x":14,"y":34,"v":93},{"x":14.2,"y":34,"v":88},{"x":14.4,"y":34,"v":83},
{"x":11.7,"y":33.8,"v":86},{"x":11.8,"y":33.8,"v":90},{"x":12,"y":33.8,"v":93},{"x":12.2,"y":33.8,"v":96},{"x":12.4,"y":33.8,"v":90},{"x":12.6,"y":33.8,"v":94},{"x":12.8,"y":33.8,"v":88},{"x":13,"y":33.8,"v":86},{"x":13.2,"y":33.8,"v":86},{"x":13.4,"y":33.8,"v":87},{"x":13.6,"y":33.8,"v":87},{"x":13.8,"y":33.8,"v":87},{"x":14,"y":33.8,"v":91},{"x":14.2,"y":33.8,"v":87},{"x":14.4,"y":33.8,"v":85},
{"x":11.7,"y":33.6,"v":85},{"x":11.8,"y":33.6,"v":85},{"x":12,"y":33.6,"v":92},{"x":12.2,"y":33.6,"v":85},{"x":12.4,"y":33.6,"v":85},{"x":12.6,"y":33.6,"v":82},{"x":12.8,"y":33.6,"v":86},{"x":13,"y":33.6,"v":84},{"x":13.2,"y":33.6,"v":86},{"x":13.4,"y":33.6,"v":87},{"x":13.6,"y":33.6,"v":87},{"x":13.8,"y":33.6,"v":85},{"x":14,"y":33.6,"v":88},{"x":14.2,"y":33.6,"v":79},{"x":14.4,"y":33.6,"v":82},
{"x":11.7,"y":33.3,"v":72},{"x":11.8,"y":33.3,"v":86},{"x":12,"y":33.3,"v":92},{"x":12.2,"y":33.3,"v":85},{"x":12.4,"y":33.3,"v":83},{"x":12.6,"y":33.3,"v":90},{"x":12.8,"y":33.3,"v":84},{"x":13,"y":33.3,"v":79},{"x":13.2,"y":33.3,"v":80},{"x":13.4,"y":33.3,"v":79},{"x":13.8,"y":33.3,"v":81},{"x":14,"y":33.3,"v":82},{"x":14.2,"y":33.3,"v":82},{"x":14.4,"y":33.3,"v":87},
{"x":11.7,"y":33.2,"v":83},{"x":11.8,"y":33.2,"v":95},{"x":12,"y":33.2,"v":87},{"x":12.2,"y":33.2,"v":90},{"x":12.4,"y":33.2,"v":93},{"x":12.6,"y":33.2,"v":88},{"x":12.8,"y":33.2,"v":88},{"x":13,"y":33.2,"v":96},{"x":13.2,"y":33.2,"v":92},{"x":13.4,"y":33.2,"v":85},{"x":13.6,"y":33.2,"v":87},{"x":13.8,"y":33.2,"v":91},{"x":14,"y":33.2,"v":88},{"x":14.2,"y":33.2,"v":85},{"x":14.4,"y":33.2,"v":88},
{"x":11.7,"y":33,"v":94},{"x":11.8,"y":33,"v":91},{"x":12,"y":33,"v":85},{"x":12.2,"y":33,"v":87},{"x":12.4,"y":33,"v":91},{"x":12.6,"y":33,"v":91},{"x":12.8,"y":33,"v":94},{"x":13,"y":33,"v":88},{"x":13.2,"y":33,"v":88},{"x":13.4,"y":33,"v":99},{"x":13.6,"y":33,"v":93},{"x":13.8,"y":33,"v":85},{"x":14,"y":33,"v":88},{"x":14.2,"y":33,"v":88},{"x":14.4,"y":33,"v":88},
{"x":11.7,"y":32.8,"v":82},{"x":11.8,"y":32.8,"v":90},{"x":12,"y":32.8,"v":87},{"x":12.2,"y":32.8,"v":93},{"x":12.4,"y":32.8,"v":90},{"x":12.6,"y":32.8,"v":83},{"x":12.8,"y":32.8,"v":85},{"x":13,"y":32.8,"v":88},{"x":13.2,"y":32.8,"v":88},{"x":13.4,"y":32.8,"v":90},{"x":13.6,"y":32.8,"v":90},{"x":13.8,"y":32.8,"v":87},{"x":14,"y":32.8,"v":85},{"x":14.2,"y":32.8,"v":91},{"x":14.4,"y":32.8,"v":88},
{"x":11.7,"y":32.6,"v":78},{"x":11.8,"y":32.6,"v":90},{"x":12,"y":32.6,"v":96},{"x":12.2,"y":32.6,"v":90},{"x":12.4,"y":32.6,"v":85},{"x":12.6,"y":32.6,"v":85},{"x":12.8,"y":32.6,"v":87},{"x":13,"y":32.6,"v":91},{"x":13.2,"y":32.6,"v":87},{"x":13.4,"y":32.6,"v":87},{"x":13.6,"y":32.6,"v":83},{"x":13.8,"y":32.6,"v":93},{"x":14,"y":32.6,"v":93},{"x":14.2,"y":32.6,"v":90},{"x":14.4,"y":32.6,"v":86},
{"x":14.7,"y":36.3,"v":96},{"x":14.8,"y":36.3,"v":85},{"x":15,"y":36.3,"v":83},{"x":15.2,"y":36.3,"v":87},{"x":15.4,"y":36.3,"v":95},{"x":15.6,"y":36.3,"v":87},{"x":15.8,"y":36.3,"v":83},{"x":16,"y":36.3,"v":88},{"x":16.2,"y":36.3,"v":80},{"x":16.4,"y":36.3,"v":86},{"x":16.6,"y":36.3,"v":83},{"x":16.8,"y":36.3,"v":81},{"x":17,"y":36.3,"v":90},{"x":17.2,"y":36.3,"v":88},{"x":17.4,"y":36.3,"v":78},
{"x":14.7,"y":36.2,"v":86},{"x":14.8,"y":36.2,"v":92},{"x":15,"y":36.2,"v":90},{"x":15.2,"y":36.2,"v":87},{"x":15.4,"y":36.2,"v":95},{"x":15.6,"y":36.2,"v":92},{"x":15.8,"y":36.2,"v":90},{"x":16,"y":36.2,"v":90},{"x":16.2,"y":36.2,"v":90},{"x":16.4,"y":36.2,"v":87},{"x":16.6,"y":36.2,"v":83},{"x":16.8,"y":36.2,"v":92},{"x":17,"y":36.2,"v":96},{"x":17.2,"y":36.2,"v":91},{"x":17.4,"y":36.2,"v":88},
{"x":14.7,"y":36,"v":81},{"x":14.8,"y":36,"v":92},{"x":15,"y":36,"v":95},{"x":15.2,"y":36,"v":95},{"x":15.4,"y":36,"v":102},{"x":15.6,"y":36,"v":87},{"x":15.8,"y":36,"v":90},{"x":16,"y":36,"v":88},{"x":16.2,"y":36,"v":88},{"x":16.4,"y":36,"v":91},{"x":16.6,"y":36,"v":87},{"x":16.8,"y":36,"v":87},{"x":17,"y":36,"v":90},{"x":17.2,"y":36,"v":93},{"x":17.4,"y":36,"v":88},
{"x":14.7,"y":35.8,"v":90},{"x":14.8,"y":35.8,"v":98},{"x":15,"y":35.8,"v":90},{"x":15.2,"y":35.8,"v":93},{"x":15.4,"y":35.8,"v":91},{"x":15.6,"y":35.8,"v":85},{"x":15.8,"y":35.8,"v":91},{"x":16,"y":35.8,"v":88},{"x":16.2,"y":35.8,"v":83},{"x":16.4,"y":35.8,"v":88},{"x":16.6,"y":35.8,"v":86},{"x":16.8,"y":35.8,"v":86},{"x":17,"y":35.8,"v":86},{"x":17.2,"y":35.8,"v":81},{"x":17.4,"y":35.8,"v":82},
{"x":14.7,"y":35.6,"v":84},{"x":14.8,"y":35.6,"v":92},{"x":15,"y":35.6,"v":87},{"x":15.2,"y":35.6,"v":87},{"x":15.4,"y":35.6,"v":85},{"x":15.6,"y":35.6,"v":83},{"x":15.8,"y":35.6,"v":83},{"x":16,"y":35.6,"v":79},{"x":16.2,"y":35.6,"v":88},{"x":16.4,"y":35.6,"v":86},{"x":16.6,"y":35.6,"v":83},{"x":16.8,"y":35.6,"v":86},{"x":17,"y":35.6,"v":93},{"x":17.2,"y":35.6,"v":88},{"x":17.4,"y":35.6,"v":83},
{"x":14.7,"y":35.3,"v":78},{"x":14.8,"y":35.3,"v":83},{"x":15,"y":35.3,"v":83},{"x":15.2,"y":35.3,"v":82},{"x":15.4,"y":35.3,"v":88},{"x":15.6,"y":35.3,"v":85},{"x":15.8,"y":35.3,"v":86},{"x":16,"y":35.3,"v":84},{"x":16.2,"y":35.3,"v":85},{"x":16.4,"y":35.3,"v":90},{"x":16.6,"y":35.3,"v":81},{"x":16.8,"y":35.3,"v":81},{"x":17,"y":35.3,"v":90},{"x":17.2,"y":35.3,"v":80},
{"x":14.7,"y":35.2,"v":80},{"x":14.8,"y":35.2,"v":91},{"x":15,"y":35.2,"v":86},{"x":15.2,"y":35.2,"v":91},{"x":15.4,"y":35.2,"v":91},{"x":15.6,"y":35.2,"v":91},{"x":15.8,"y":35.2,"v":93},{"x":16,"y":35.2,"v":84},{"x":16.2,"y":35.2,"v":91},{"x":16.4,"y":35.2,"v":91},{"x":16.6,"y":35.2,"v":87},{"x":16.8,"y":35.2,"v":87},{"x":17,"y":35.2,"v":93},{"x":17.2,"y":35.2,"v":93},{"x":17.4,"y":35.2,"v":88},
{"x":14.7,"y":35,"v":92},{"x":14.8,"y":35,"v":92},{"x":15,"y":35,"v":90},{"x":15.2,"y":35,"v":90},{"x":15.4,"y":35,"v":93},{"x":15.6,"y":35,"v":91},{"x":15.8,"y":35,"v":91},{"x":16,"y":35,"v":93},{"x":16.2,"y":35,"v":93},{"x":16.4,"y":35,"v":86},{"x":16.6,"y":35,"v":85},{"x":16.8,"y":35,"v":85},{"x":17,"y":35,"v":90},{"x":17.2,"y":35,"v":90},{"x":17.4,"y":35,"v":90},
{"x":14.7,"y":34.8,"v":81},{"x":14.8,"y":34.8,"v":86},{"x":15,"y":34.8,"v":90},{"x":15.2,"y":34.8,"v":95},{"x":15.4,"y":34.8,"v":86},{"x":15.6,"y":34.8,"v":93},{"x":15.8,"y":34.8,"v":88},{"x":16,"y":34.8,"v":93},{"x":16.2,"y":34.8,"v":93},{"x":16.4,"y":34.8,"v":91},{"x":16.6,"y":34.8,"v":91},{"x":16.8,"y":34.8,"v":97},{"x":17,"y":34.8,"v":87},{"x":17.2,"y":34.8,"v":95},{"x":17.4,"y":34.8,"v":91},
{"x":14.7,"y":34.6,"v":79},{"x":14.8,"y":34.6,"v":93},{"x":15,"y":34.6,"v":93},{"x":15.2,"y":34.6,"v":96},{"x":15.4,"y":34.6,"v":93},{"x":15.6,"y":34.6,"v":93},{"x":15.8,"y":34.6,"v":95},{"x":16,"y":34.6,"v":95},{"x":16.2,"y":34.6,"v":85},{"x":16.4,"y":34.6,"v":90},{"x":16.6,"y":34.6,"v":90},{"x":16.8,"y":34.6,"v":82},{"x":17,"y":34.6,"v":87},{"x":17.2,"y":34.6,"v":85},{"x":17.4,"y":34.6,"v":88},
{"x":14.7,"y":34.3,"v":78},{"x":14.8,"y":34.3,"v":91},{"x":15,"y":34.3,"v":87},{"x":15.2,"y":34.3,"v":96},{"x":15.4,"y":34.3,"v":90},{"x":15.6,"y":34.3,"v":85},{"x":15.8,"y":34.3,"v":87},{"x":16,"y":34.3,"v":96},{"x":16.2,"y":34.3,"v":91},{"x":16.4,"y":34.3,"v":101},{"x":16.6,"y":34.3,"v":83},{"x":16.8,"y":34.3,"v":82},{"x":17,"y":34.3,"v":80},{"x":17.2,"y":34.3,"v":93},{"x":17.4,"y":34.3,"v":85},
{"x":14.7,"y":34.2,"v":87},{"x":14.8,"y":34.2,"v":95},{"x":15,"y":34.2,"v":100},{"x":15.2,"y":34.2,"v":96},{"x":15.4,"y":34.2,"v":103},{"x":15.6,"y":34.2,"v":95},{"x":15.8,"y":34.2,"v":95},{"x":16,"y":34.2,"v":97},{"x":16.2,"y":34.2,"v":95},{"x":16.4,"y":34.2,"v":97},{"x":16.6,"y":34.2,"v":95},{"x":16.8,"y":34.2,"v":95},{"x":17,"y":34.2,"v":91},{"x":17.2,"y":34.2,"v":96},{"x":17.4,"y":34.2,"v":92},
{"x":14.7,"y":34,"v":90},{"x":14.8,"y":34,"v":95},{"x":15,"y":34,"v":97},{"x":15.2,"y":34,"v":94},{"x":15.4,"y":34,"v":94},{"x":15.6,"y":34,"v":101},{"x":15.8,"y":34,"v":94},{"x":16,"y":34,"v":97},{"x":16.2,"y":34,"v":89},{"x":16.4,"y":34,"v":94},{"x":16.6,"y":34,"v":94},{"x":16.8,"y":34,"v":98},{"x":17,"y":34,"v":92},{"x":17.2,"y":34,"v":92},{"x":17.4,"y":34,"v":86},
{"x":14.7,"y":33.8,"v":84},{"x":14.8,"y":33.8,"v":95},{"x":15,"y":33.8,"v":95},{"x":15.2,"y":33.8,"v":95},{"x":15.4,"y":33.8,"v":95},{"x":15.6,"y":33.8,"v":98},{"x":15.8,"y":33.8,"v":98},{"x":16,"y":33.8,"v":94},{"x":16.2,"y":33.8,"v":92},{"x":16.4,"y":33.8,"v":94},{"x":16.6,"y":33.8,"v":101},{"x":16.8,"y":33.8,"v":95},{"x":17,"y":33.8,"v":92},{"x":17.2,"y":33.8,"v":97},{"x":17.4,"y":33.8,"v":92},
{"x":14.7,"y":33.6,"v":84},{"x":14.8,"y":33.6,"v":87},{"x":15,"y":33.6,"v":90},{"x":15.2,"y":33.6,"v":97},{"x":15.4,"y":33.6,"v":91},{"x":15.6,"y":33.6,"v":95},{"x":15.8,"y":33.6,"v":95},{"x":16,"y":33.6,"v":89},{"x":16.2,"y":33.6,"v":87},{"x":16.4,"y":33.6,"v":94},{"x":16.6,"y":33.6,"v":94},{"x":16.8,"y":33.6,"v":91},{"x":17,"y":33.6,"v":89},{"x":17.2,"y":33.6,"v":92},{"x":17.4,"y":33.6,"v":90},
{"x":14.7,"y":33.3,"v":87},{"x":14.8,"y":33.3,"v":79},{"x":15,"y":33.3,"v":84},{"x":15.2,"y":33.3,"v":79},{"x":15.4,"y":33.3,"v":88},{"x":15.6,"y":33.3,"v":78},{"x":15.8,"y":33.3,"v":92},{"x":16,"y":33.3,"v":85},{"x":16.2,"y":33.3,"v":82},{"x":16.4,"y":33.3,"v":83},{"x":16.6,"y":33.3,"v":80},{"x":16.8,"y":33.3,"v":92},{"x":17,"y":33.3,"v":86},{"x":17.2,"y":33.3,"v":93},{"x":17.4,"y":33.3,"v":79},
{"x":14.7,"y":33.2,"v":90},{"x":14.8,"y":33.2,"v":90},{"x":15,"y":33.2,"v":90},{"x":15.2,"y":33.2,"v":86},{"x":15.4,"y":33.2,"v":92},{"x":15.6,"y":33.2,"v":92},{"x":15.8,"y":33.2,"v":88},{"x":16,"y":33.2,"v":91},{"x":16.2,"y":33.2,"v":89},{"x":16.4,"y":33.2,"v":92},{"x":16.6,"y":33.2,"v":97},{"x":16.8,"y":33.2,"v":95},{"x":17,"y":33.2,"v":86},{"x":17.2,"y":33.2,"v":86},{"x":17.4,"y":33.2,"v":85},
{"x":14.7,"y":33,"v":84},{"x":14.8,"y":33,"v":87},{"x":15,"y":33,"v":93},{"x":15.2,"y":33,"v":90},{"x":15.4,"y":33,"v":87},{"x":15.6,"y":33,"v":92},{"x":15.8,"y":33,"v":86},{"x":16,"y":33,"v":86},{"x":16.2,"y":33,"v":88},{"x":16.4,"y":33,"v":92},{"x":16.6,"y":33,"v":86},{"x":16.8,"y":33,"v":98},{"x":17,"y":33,"v":91},{"x":17.2,"y":33,"v":97},{"x":17.4,"y":33,"v":85},
{"x":14.7,"y":32.8,"v":96},{"x":14.8,"y":32.8,"v":90},{"x":15,"y":32.8,"v":83},{"x":15.2,"y":32.8,"v":85},{"x":15.4,"y":32.8,"v":87},{"x":15.6,"y":32.8,"v":95},{"x":15.8,"y":32.8,"v":92},{"x":16,"y":32.8,"v":92},{"x":16.2,"y":32.8,"v":98},{"x":16.4,"y":32.8,"v":92},{"x":16.6,"y":32.8,"v":92},{"x":16.8,"y":32.8,"v":90},{"x":17,"y":32.8,"v":85},{"x":17.2,"y":32.8,"v":95},{"x":17.4,"y":32.8,"v":90},
{"x":14.8,"y":32.6,"v":87},{"x":15,"y":32.6,"v":87},{"x":15.2,"y":32.6,"v":87},{"x":15.4,"y":32.6,"v":86},{"x":15.6,"y":32.6,"v":86},{"x":15.8,"y":32.6,"v":86},{"x":16,"y":32.6,"v":90},{"x":16.2,"y":32.6,"v":90},{"x":16.4,"y":32.6,"v":92},{"x":16.6,"y":32.6,"v":87},{"x":16.8,"y":32.6,"v":87},{"x":17,"y":32.6,"v":90},{"x":17.2,"y":32.6,"v":83},{"x":17.4,"y":32.6,"v":88}
],
"labelA":[{"x":4,"y":38.25,"t":"CMS"}],"labelB":[{"x":5.116,"y":38.25,"t":"Preliminary"}]},
"hconcat":[
{"width":1075,"height":456,"view":{"stroke":"black","strokeWidth":1.2},
"layer":[
{"data":{"name":"cells"},"transform":[{"lookup":"x","from":{"data":{"name":"cols"},"key":"x","fields":["x2"]}},{"lookup":"y","from":{"data":{"name":"rows"},"key":"y","fields":["y2"]}}],"mark":{"type":"rect","strokeWidth":0.6},
"encoding":{"x":{"field":"x","type":"quantitative","scale":{"domain":[4,20],"nice":false,"zero":false},"axis":{"values":[4,6,8,10,12,14,16,18,20],"grid":false,"domain":false,"ticks":false,"title":null,"labelFontSize":17.5,"labelColor":"black","labelPadding":7,"labelFlush":false,"format":"d"}},"x2":{"field":"x2"},
"y":{"field":"y","type":"quantitative","scale":{"domain":[30,38],"nice":false,"zero":false},"axis":{"values":[30,31,32,33,34,35,36,37,38],"grid":false,"domain":false,"ticks":false,"title":"y [mm]","titleFontSize":27,"titleFontWeight":"normal","titleColor":"black","titleAnchor":"end","titleY":-2,"titlePadding":32,"labelFontSize":17.5,"labelColor":"black","labelPadding":7,"format":"d"}},"y2":{"field":"y2"},
"color":{"field":"v","type":"quantitative","legend":null,"scale":{"type":"threshold","domain":[72,74,76,78,80,82,84,86,88,90,92,94,96,98,100,102,104,106,108],"range":["#2a35a0","#1642be","#0c5bd6","#0f72d5","#1083d1","#0c93cf","#06a0c8","#0fa8bc","#1eadac","#33b19f","#4fb48f","#6cb782","#8db872","#a9b765","#c5b25b","#dfb83f","#f2bd30","#fcc527","#fbdc16","#f9fb0e"]}},
"stroke":{"field":"v","type":"quantitative","legend":null,"scale":{"type":"threshold","domain":[72,74,76,78,80,82,84,86,88,90,92,94,96,98,100,102,104,106,108],"range":["#2a35a0","#1642be","#0c5bd6","#0f72d5","#1083d1","#0c93cf","#06a0c8","#0fa8bc","#1eadac","#33b19f","#4fb48f","#6cb782","#8db872","#a9b765","#c5b25b","#dfb83f","#f2bd30","#fcc527","#fbdc16","#f9fb0e"]}}}},
{"data":{"name":"holes"},"mark":{"type":"rect","color":"white"},"encoding":{"x":{"field":"x","type":"quantitative"},"x2":{"field":"x2"},"y":{"field":"y","type":"quantitative"},"y2":{"field":"y2"}}},
{"data":{"name":"ticks"},"mark":{"type":"rule","color":"black","strokeWidth":1.2},"encoding":{"x":{"field":"x","type":"quantitative"},"x2":{"field":"x2"},"y":{"field":"y","type":"quantitative"},"y2":{"field":"y2"}}},
{"data":{"name":"labelA"},"mark":{"type":"text","align":"left","baseline":"alphabetic","fontSize":27,"fontWeight":"bold","color":"black","clip":false},"encoding":{"x":{"field":"x","type":"quantitative"},"y":{"field":"y","type":"quantitative"},"text":{"field":"t"}}},
{"data":{"name":"labelB"},"mark":{"type":"text","align":"left","baseline":"alphabetic","fontSize":22.6,"fontStyle":"italic","color":"black","clip":false},"encoding":{"x":{"field":"x","type":"quantitative"},"y":{"field":"y","type":"quantitative"},"text":{"field":"t"}}}
]},
{"width":62,"height":456,"view":{"stroke":null},
"layer":[
{"data":{"name":"bar"},"mark":{"type":"rect"},"encoding":{"y":{"field":"lo","type":"quantitative","scale":{"domain":[70,110],"nice":false,"zero":false},"axis":{"orient":"right","values":[70,75,80,85,90,95,100,105,110],"grid":false,"domain":true,"domainColor":"black","domainWidth":1.2,"ticks":false,"labelFontSize":25,"labelColor":"black","labelPadding":9,"labelBound":false,"labelOverlap":false,"title":"Most probable value [mV]","titleFontSize":30,"titleFontWeight":"normal","titleColor":"black","titleAngle":270,"titleY":170,"titlePadding":61}},"y2":{"field":"hi"},
"color":{"field":"lo","type":"quantitative","legend":null,"scale":{"type":"threshold","domain":[72,74,76,78,80,82,84,86,88,90,92,94,96,98,100,102,104,106,108],"range":["#2a35a0","#1642be","#0c5bd6","#0f72d5","#1083d1","#0c93cf","#06a0c8","#0fa8bc","#1eadac","#33b19f","#4fb48f","#6cb782","#8db872","#a9b765","#c5b25b","#dfb83f","#f2bd30","#fcc527","#fbdc16","#f9fb0e"]}}}},
{"data":{"name":"barticks"},"transform":[{"lookup":"t","from":{"data":{"values":[{"t":70,"a":0.5,"b":1},{"t":75,"a":0.5,"b":1},{"t":80,"a":0.5,"b":1},{"t":85,"a":0.5,"b":1},{"t":90,"a":0.5,"b":1},{"t":95,"a":0.5,"b":1},{"t":100,"a":0.5,"b":1},{"t":105,"a":0.5,"b":1},{"t":110,"a":0.5,"b":1}]},"key":"t","fields":["a","b"]}}],"mark":{"type":"rule","color":"black","strokeWidth":1.2},"encoding":{"x":{"field":"a","type":"quantitative","scale":{"domain":[0,1]},"axis":null},"x2":{"field":"b"},"y":{"field":"t","type":"quantitative"}}}
],"resolve":{"scale":{"color":"independent"}}}
],"resolve":{"scale":{"color":"independent","stroke":"independent"}}}
